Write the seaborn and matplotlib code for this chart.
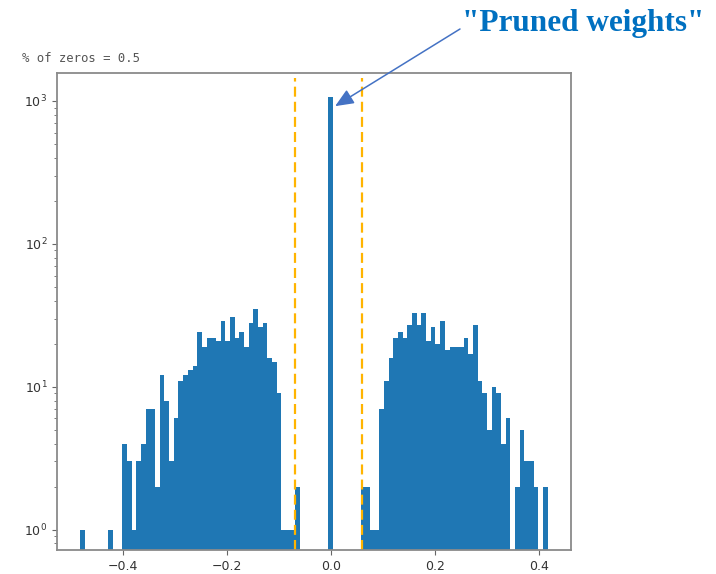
import numpy as np
import pandas as pd
import matplotlib
matplotlib.use("Agg")
import matplotlib.pyplot as plt
import seaborn as sns

# ---- data ----
bin_lo = -0.481
bin_hi = 0.416
n_bins = 100
counts = [
    1, 0, 0, 0, 0, 0, 1, 0, 0, 4,
    3, 1, 3, 4, 7, 7, 2, 12, 8, 3,
    6, 11, 12, 13, 14, 24, 19, 22, 22, 21,
    29, 21, 31, 22, 24, 19, 28, 35, 26, 28,
    16, 15, 9, 1, 1, 1, 2, 0, 0, 0,
    0, 0, 0, 1060, 0, 0, 0, 0, 0, 0,
    2, 2, 1, 1, 7, 11, 16, 22, 24, 22,
    27, 33, 27, 33, 21, 26, 20, 29, 18, 19,
    19, 19, 22, 17, 27, 11, 9, 5, 10, 9,
    4, 6, 0, 2, 5, 3, 3, 2, 0, 2,
]
thresholds = [-0.069, 0.059]
title_text = "% of zeros = 0.5"
annot_text = '"Pruned weights"'
x_ticks = [-0.4, -0.2, 0.0, 0.2, 0.4]

edges = np.linspace(bin_lo, bin_hi, n_bins + 1)
centers = (edges[:-1] + edges[1:]) / 2
df = pd.DataFrame({"weight": centers, "count": np.asarray(counts, dtype=float)})

W, H = 716, 574
fig = plt.figure(figsize=(W / 100, H / 100), dpi=100)
ax = fig.add_axes([57 / W, 1 - 550 / H, (571 - 57) / W, (550 - 73) / H])

sns.histplot(data=df, x="weight", weights="count", bins=n_bins,
             binrange=(bin_lo, bin_hi), ax=ax,
             color="#1f77b4", alpha=1.0, edgecolor="none", linewidth=0)
ax.set_yscale("log")
rng = bin_hi - bin_lo
ax.set_xlim(bin_lo - 0.05 * rng, bin_hi + 0.05 * rng)
ax.set_ylim(0.72, 1570)
ax.set_xticks(x_ticks)
ax.set_xlabel("")
ax.set_ylabel("")

for t in thresholds:
    ax.axvline(t, color="#FFB400", lw=1.6, linestyle=(0, (4.5, 2.3)), ymax=0.99)

for s in ax.spines.values():
    s.set_color("#8a8a8a")
    s.set_linewidth(1.3)
ax.tick_params(axis="both", which="both", colors="#666666", labelcolor="#333333",
               labelsize=9)
ax.tick_params(axis="y", which="minor", length=2)

fig.text(22 / W, 1 - 58 / H, title_text, family="DejaVu Sans Mono",
         fontsize=8.8, color="#555555", va="center", ha="left")

# arrow to the zero bar
ax.annotate("", xy=(0.008, 920), xycoords="data",
            xytext=(460, H - 29), textcoords="figure pixels",
            arrowprops=dict(arrowstyle="-|>,head_length=0.75,head_width=0.32",
                            mutation_scale=15, color="#4472C4", lw=1.1,
                            shrinkA=0, shrinkB=0),
            annotation_clip=False)
fig.text(583 / W, 1 - 31 / H, annot_text, family="Liberation Serif",
         fontweight="bold", fontsize=22.5, color="#0070C0",
         ha="center", va="baseline")

fig.savefig("out.png", dpi=100)
